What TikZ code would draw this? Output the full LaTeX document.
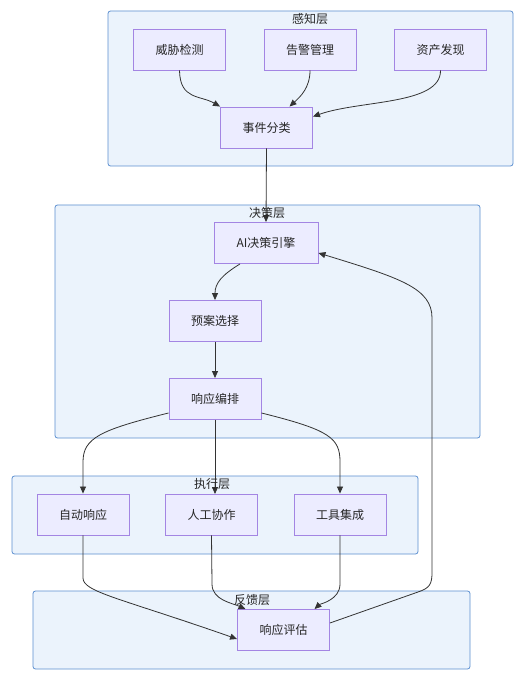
\documentclass[tikz,border=0pt]{standalone}
\usepackage{fontspec}
\setmainfont{Noto Sans CJK SC}
\usetikzlibrary{arrows.meta}
\definecolor{clfill}{HTML}{EBF3FC}
\definecolor{cldraw}{HTML}{5B8FD0}
\definecolor{ndfill}{HTML}{ECECFF}
\definecolor{nddraw}{HTML}{A385E3}
\definecolor{edge}{HTML}{333333}
\begin{document}
\begin{tikzpicture}[x=1pt,y=-1pt,
  cluster/.style={draw=cldraw,fill=clfill,line width=0.8pt,rounded corners=2.5pt,inner sep=0pt},
  cltitle/.style={font=\fontsize{12}{14}\selectfont,text=black!85,inner sep=0pt},
  box/.style={draw=nddraw,fill=ndfill,line width=0.9pt,minimum width=92pt,minimum height=41pt,inner sep=0pt,font=\fontsize{12}{14}\selectfont,text=black!85},
  conn/.style={draw=edge,line width=0.8pt,-{Triangle[length=7pt,width=6pt]}}]
\useasboundingbox (0,0) rectangle (531,684);
\fill[white] (0,0) rectangle (531,684);
% clusters
\node[cluster,minimum width=405pt,minimum height=155pt] (c1) at (310.5,88.5) {};
\node[cltitle] (t1) at (310,19) {感知层};
\node[cluster,minimum width=425pt,minimum height=233pt] (c2) at (267.5,321.5) {};
\node[cluster,minimum width=406pt,minimum height=78pt] (c3) at (215,515) {};
\node[cluster,minimum width=437pt,minimum height=78pt] (c4) at (251.5,630) {};
% nodes
\node[box] (wx) at (179.5,49.5) {威胁检测};
\node[box] (gj) at (310,49.5) {告警管理};
\node[box] (zc) at (440.5,49.5) {资产发现};
\node[box] (ec) at (266.5,127.5) {事件分类};
\node[box,minimum width=104pt] (ai) at (266,243) {AI决策引擎};
\node[box] (ya) at (215,321) {预案选择};
\node[box] (xb) at (215,399) {响应编排};
\node[box] (zd) at (83,514.5) {自动响应};
\node[box] (rg) at (211.5,514.5) {人工协作};
\node[box] (gt) at (340,514.5) {工具集成};
\node[box] (pg) at (283.5,630) {响应评估};
% edges
\draw[conn] (wx.south) .. controls (180,100) and (200,95) .. (ec.north west);
\draw[conn] (gj.south) .. controls (310,88) and (300,97) .. ([xshift=23pt]ec.north);
\draw[conn] (zc.south) .. controls (441,105) and (360,100) .. ([yshift=-10pt]ec.north east);
\draw[conn] (ec.south) -- (ai.north);
\draw[conn] ([xshift=-26pt]ai.south) .. controls (222,275) and (215,283) .. (ya.north);
\draw[conn] (ya.south) -- (xb.north);
\draw[conn] ([yshift=-14pt]xb.west) .. controls (100,430) and (83,438) .. (83,462) -- (zd.north);
\draw[conn] (xb.south) -- (215,494);
\draw[conn] ([yshift=-14pt]xb.east) .. controls (330,430) and (340,438) .. (340,462) -- (gt.north);
\draw[conn] (zd.south) -- (83,578) .. controls (83,592) and (120,598) .. ([yshift=-9pt]pg.west);
\draw[conn] (rg.south) -- (212,584) .. controls (212,600) and (232,603) .. ([xshift=-38pt]pg.north);
\draw[conn] (gt.south) -- (340,584) .. controls (340,600) and (320,604) .. ([xshift=31pt]pg.north);
\draw[conn] ([yshift=7pt]pg.east) -- (418,592) .. controls (430,588) and (432,584) .. (432,572) -- (432,318) .. controls (432,288) and (400,278) .. ([yshift=-10pt]ai.east);
% titles on top
\node[cltitle] (t2) at (267,213) {决策层};
\node[cltitle] (t3) at (212,484) {执行层};
\node[cltitle] (t4) at (252,600) {反馈层};
\end{tikzpicture}
\end{document}
